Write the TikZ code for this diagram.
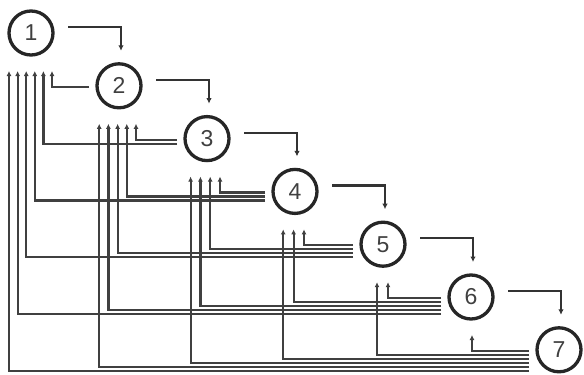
\documentclass[tikz,border=0pt]{standalone}
\usepackage{fontspec}
\setmainfont{Liberation Sans}
\usetikzlibrary{arrows.meta, positioning}

\begin{document}
\begin{tikzpicture}
  [
    x                  = 1pt,
    y                  = -1pt,
    node distance      = 52.8pt and 88pt,
    on grid,
    blk/.style         = {circle, draw=black!85, line width=3.3pt, minimum size=44pt,
                          inner sep=0pt, font=\fontsize{23}{26}\selectfont, text=black!75},
    fwd/.style         = {draw=black!80, line width=2.2pt, -{Latex[length=5.5pt,width=5.5pt]}},
    back/.style        = {draw=black!75, line width=2.2pt, -{Latex[length=5pt,width=5pt]}}
  ]

  \useasboundingbox (0,0) rectangle (584,375);

  \node[blk] (n1) at (31,33) {1};
  \node[blk, below right=of n1] (n2) {2};
  \node[blk, below right=of n2] (n3) {3};
  \node[blk, below right=of n3] (n4) {4};
  \node[blk, below right=of n4] (n5) {5};
  \node[blk, below right=of n5] (n6) {6};
  \node[blk, below right=of n6] (n7) {7};

  \foreach \i in {1,...,6}{
    \pgfmathtruncatemacro\nxt{\i+1}
    \draw[fwd] ([shift={(37,-6)}]n\i.center) -| ([shift={(2,-35)}]n\nxt.center);
    \foreach \j in {\nxt,...,7}{
      \coordinate (t\i\j) at ([shift={({4*(7-\i)-3-(8+0.6*\i)*(\j-\i-1)},38)}]n\i.center);
      \coordinate (e\i\j) at ([shift={(-30,{1+4*(\j-1-\i)})}]n\j.center);
      \draw[back] (e\i\j) -| (t\i\j);
    }
  }
\end{tikzpicture}
\end{document}
